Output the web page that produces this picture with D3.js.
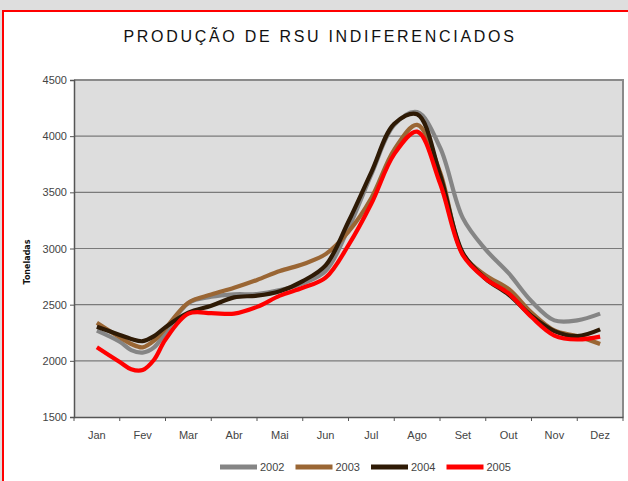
<!DOCTYPE html>
<html>
<head>
<meta charset="utf-8">
<script src="https://cdn.jsdelivr.net/npm/d3@7/dist/d3.min.js"></script>
<style>
  html, body { margin: 0; padding: 0; background: #dedede; overflow: hidden; }
  svg { position: absolute; left: 0; top: 0; }
</style>
</head>
<body>
<svg id="chart" width="628" height="481"></svg>
<script>
// --- Data (position in months, 0 = middle of Jan) ---
const months = ['Jan', 'Fev', 'Mar', 'Abr', 'Mai', 'Jun', 'Jul', 'Ago', 'Set', 'Out', 'Nov', 'Dez'];
const steps = [0, 0.5, 0.75, 1, 1.25, 1.5, 2, 2.5, 3, 3.5, 4, 4.5, 5, 5.5,
               6, 6.5, 7, 7.5, 8, 8.5, 9, 9.5, 10, 10.5, 11];
const years = ['2002', '2003', '2004', '2005'];

const v2002 = [2269, 2170, 2095, 2073, 2120, 2250, 2515, 2570, 2592, 2595, 2630, 2690, 2800, 3180,
               3660, 4100, 4215, 3900, 3270, 2990, 2780, 2530, 2360, 2360, 2420];
const v2003 = [2340, 2210, 2150, 2120, 2180, 2290, 2518, 2590, 2650, 2720, 2800, 2860, 2950, 3150,
               3450, 3880, 4100, 3680, 2950, 2760, 2640, 2430, 2270, 2220, 2150];
const v2004 = [2304, 2230, 2195, 2175, 2220, 2300, 2428, 2490, 2565, 2580, 2620, 2710, 2850, 3240,
               3680, 4110, 4195, 3660, 2960, 2730, 2590, 2400, 2265, 2220, 2280];
const v2005 = [2120, 1990, 1925, 1918, 2010, 2190, 2420, 2425, 2420, 2480, 2580, 2650, 2740, 3030,
               3400, 3840, 4040, 3580, 2940, 2730, 2600, 2390, 2225, 2190, 2215];

const yTicks = [1500, 2000, 2500, 3000, 3500, 4000, 4500];

const seriesValues = [v2002, v2003, v2004, v2005];
const colors = ['#858585', '#9a6634', '#2e1a05', '#ff0000'];

// --- Layout ---
const plot = { left: 74, top: 80, right: 623, bottom: 417 };
const svg = d3.select('#chart');

// Chart frame: white sheet with red top / left edge
svg.append('rect')
    .attr('x', 3).attr('y', 11).attr('width', 625).attr('height', 470)
    .attr('fill', '#fff');
svg.append('path')
    .attr('d', 'M3,481V11H628')
    .attr('fill', 'none').attr('stroke', '#ff0000').attr('stroke-width', 2);

const x = d3.scaleBand().domain(months).range([plot.left, plot.right]);
const xPos = t => plot.left + x.bandwidth() * (t + 0.5);
const y = d3.scaleLinear().domain([1500, 4500]).range([plot.bottom, plot.top]);

// Plot background
svg.append('rect')
    .attr('x', plot.left).attr('y', plot.top)
    .attr('width', plot.right - plot.left).attr('height', plot.bottom - plot.top)
    .attr('fill', '#dddddd');

// Gridlines
svg.append('g')
    .selectAll('line')
    .data(yTicks.slice(1))
    .join('line')
    .attr('x1', plot.left).attr('x2', plot.right)
    .attr('y1', d => y(d)).attr('y2', d => y(d))
    .attr('stroke', '#7a7a7a').attr('stroke-width', 1.2);

// Top / right border of plot
svg.append('path')
    .attr('d', `M${plot.left},${plot.top}H${plot.right}V${plot.bottom}`)
    .attr('fill', 'none').attr('stroke', '#8a8a8a').attr('stroke-width', 2);

// Y axis
const yAxis = svg.append('g')
    .attr('transform', `translate(${plot.left},0)`)
    .call(d3.axisLeft(y).tickValues(yTicks).tickSize(4).tickPadding(3).tickFormat(d3.format('d')));
yAxis.select('.domain').attr('stroke', '#555').attr('stroke-width', 1.5);
yAxis.selectAll('.tick line').attr('stroke', '#555');
yAxis.selectAll('text')
    .attr('fill', '#444').style('font-family', 'Liberation Sans, Arial, sans-serif').style('font-size', '11px');

// X axis (ticks between categories)
const xAxis = svg.append('g')
    .attr('transform', `translate(0,${plot.bottom})`)
    .call(d3.axisBottom(x).tickSize(0).tickPadding(14));
xAxis.select('.domain').attr('stroke', '#555').attr('stroke-width', 1.5);
xAxis.selectAll('text')
    .attr('fill', '#444').style('font-family', 'Liberation Sans, Arial, sans-serif').style('font-size', '11px');
xAxis.selectAll('.sep')
    .data(d3.range(months.length + 1))
    .join('line')
    .attr('class', 'sep')
    .attr('x1', i => plot.left + i * x.bandwidth()).attr('x2', i => plot.left + i * x.bandwidth())
    .attr('y1', 0).attr('y2', 4)
    .attr('stroke', '#555');

// Lines
const line = d3.line()
    .x((d, i) => xPos(steps[i]))
    .y(d => y(d))
    .curve(d3.curveCatmullRom.alpha(0.5));

svg.append('g')
    .selectAll('path')
    .data(seriesValues)
    .join('path')
    .attr('d', d => line(d))
    .attr('fill', 'none')
    .attr('stroke', (d, i) => colors[i])
    .attr('stroke-width', 4.2)
    .attr('stroke-linejoin', 'round');

// Title
svg.append('text')
    .attr('x', 320).attr('y', 42)
    .attr('text-anchor', 'middle')
    .style('font-family', 'Liberation Sans, Arial, sans-serif')
    .style('font-size', '16px')
    .style('letter-spacing', '2.7px')
    .attr('fill', '#111')
    .text('PRODUÇÃO DE RSU INDIFERENCIADOS');

// Y axis title
svg.append('text')
    .attr('transform', 'translate(30,262) rotate(-90)')
    .attr('text-anchor', 'middle')
    .style('font-family', 'DejaVu Sans, sans-serif')
    .style('font-size', '8px')
    .style('font-weight', 'bold')
    .attr('fill', '#111')
    .text('Toneladas');

// Legend
const legend = svg.append('g')
    .selectAll('g')
    .data(years)
    .join('g')
    .attr('transform', (d, i) => `translate(${220 + i * 75.5},467)`);
legend.append('line')
    .attr('x1', 0).attr('x2', 37).attr('y1', 0).attr('y2', 0)
    .attr('stroke', (d, i) => colors[i]).attr('stroke-width', 5);
legend.append('text')
    .attr('x', 40).attr('y', 4)
    .style('font-family', 'Liberation Sans, Arial, sans-serif')
    .style('font-size', '11px')
    .attr('fill', '#444')
    .text(d => d);
</script>
</body>
</html>
